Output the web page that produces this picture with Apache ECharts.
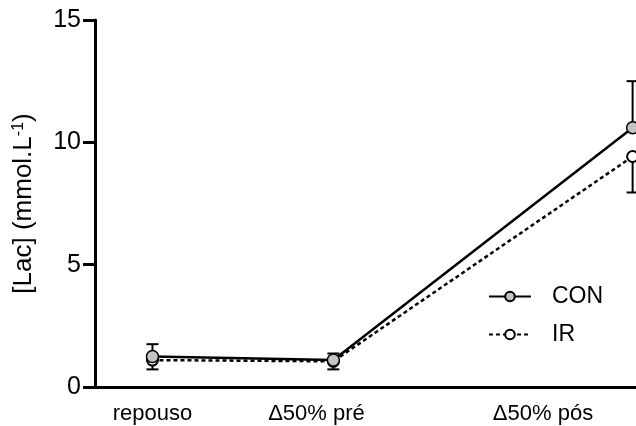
<!DOCTYPE html>
<html>
<head>
<meta charset="utf-8">
<script src="https://cdn.jsdelivr.net/npm/echarts@6/dist/echarts.min.js"></script>
<style>html,body{margin:0;padding:0;background:#fff}#c{width:636px;height:426px}</style>
</head>
<body>
<div id="c"></div>
<script>
// Category names and where they sit along the (cropped) x scale
var categories = ['repouso', '\u039450% pr\u00e9', '\u039450% p\u00f3s'];
var pointX = [0.34, 1.41, 3.18];
var labelX = [0.34, 1.31, 2.65];
// Means and SEM
var conMean = [1.25, 1.1, 10.6];
var conSem = [0.5, 0.27, 1.9];
var irMean = [1.1, 1.05, 9.42];
var irSem = [0.38, 0.33, 1.47];
var yTicks = [0, 5, 10, 15];

var FONT = 'Liberation Sans, Arial, sans-serif';

function pts(mean) { return mean.map(function (v, i) { return [pointX[i], v]; }); }
function errUp(mean, sem) { return mean.map(function (v, i) { return [pointX[i], v, v + sem[i]]; }); }
function errDown(mean, sem) { return mean.map(function (v, i) { return [pointX[i], v, v - sem[i]]; }); }
function nearestLabel(v) {
  var best = 0, bd = Infinity;
  for (var i = 0; i < labelX.length; i++) {
    var d = Math.abs(labelX[i] - v);
    if (d < bd) { bd = d; best = i; }
  }
  return bd < 0.05 ? categories[best] : '';
}

function errRender(params, api) {
  var x = api.value(0);
  var p0 = api.coord([x, api.value(1)]);
  var p1 = api.coord([x, api.value(2)]);
  var hw = 6;
  var st = { stroke: '#000', lineWidth: 2 };
  return {
    type: 'group',
    children: [
      { type: 'line', shape: { x1: p0[0], y1: p0[1], x2: p1[0], y2: p1[1] }, style: st },
      { type: 'line', shape: { x1: p1[0] - hw, y1: p1[1], x2: p1[0] + hw, y2: p1[1] }, style: st }
    ]
  };
}

var chart = echarts.init(document.getElementById('c'), null, { renderer: 'canvas' });
chart.setOption({
  animation: false,
  backgroundColor: '#fff',
  grid: { left: 95, right: 0, top: 20, bottom: 39, containLabel: false },
  legend: {
    orient: 'vertical',
    left: 488,
    top: 285,
    padding: 0,
    itemWidth: 42,
    itemHeight: 12,
    itemGap: 15,
    textStyle: { fontFamily: FONT, fontSize: 23, color: '#000', padding: [0, 0, 0, 16] },
    data: ['CON', 'IR']
  },
  xAxis: {
    type: 'value',
    min: 0,
    max: 3.2,
    splitLine: { show: false },
    axisLine: { show: true, onZero: false, lineStyle: { color: '#000', width: 3 } },
    axisTick: { show: false },
    axisLabel: {
      customValues: labelX,
      formatter: function (v) { return nearestLabel(v); },
      fontFamily: FONT, fontSize: 22, color: '#000', margin: 16
    }
  },
  yAxis: {
    type: 'value',
    min: 0,
    max: 15,
    interval: 5,
    splitLine: { show: false },
    axisLine: { show: true, lineStyle: { color: '#000', width: 3 } },
    axisTick: { show: true, length: 12, lineStyle: { color: '#000', width: 3 } },
    axisLabel: {
      fontFamily: FONT, fontSize: 25, color: '#000', margin: 14,
      formatter: function (v) { return yTicks.indexOf(v) >= 0 ? String(v) : ''; }
    },
    name: '{a|[Lac] (mmol.L}{s|-1}{a|)}',
    nameLocation: 'middle',
    nameGap: 58,
    nameRotate: 90,
    nameTextStyle: {
      rich: {
        a: { fontFamily: FONT, fontSize: 26, color: '#000' },
        s: { fontFamily: FONT, fontSize: 16, color: '#000', verticalAlign: 'top', padding: [0, 0, 10, 0] }
      }
    }
  },
  series: [
    { type: 'custom', name: 'errCON', renderItem: errRender, data: errUp(conMean, conSem), z: 1, clip: false },
    { type: 'custom', name: 'errIR', renderItem: errRender, data: errDown(irMean, irSem), z: 1, clip: false },
    {
      name: 'IR', type: 'line', data: pts(irMean), z: 3,
      symbol: 'circle', symbolSize: 11,
      lineStyle: { color: '#000', width: 2.5, type: [4, 3] },
      itemStyle: { color: '#fff', borderColor: '#000', borderWidth: 2 }
    },
    {
      name: 'CON', type: 'line', data: pts(conMean), z: 4,
      symbol: 'circle', symbolSize: 12,
      lineStyle: { color: '#000', width: 2.5 },
      itemStyle: { color: '#c4c4c4', borderColor: '#000', borderWidth: 1.5 }
    }
  ]
});
</script>
</body>
</html>
